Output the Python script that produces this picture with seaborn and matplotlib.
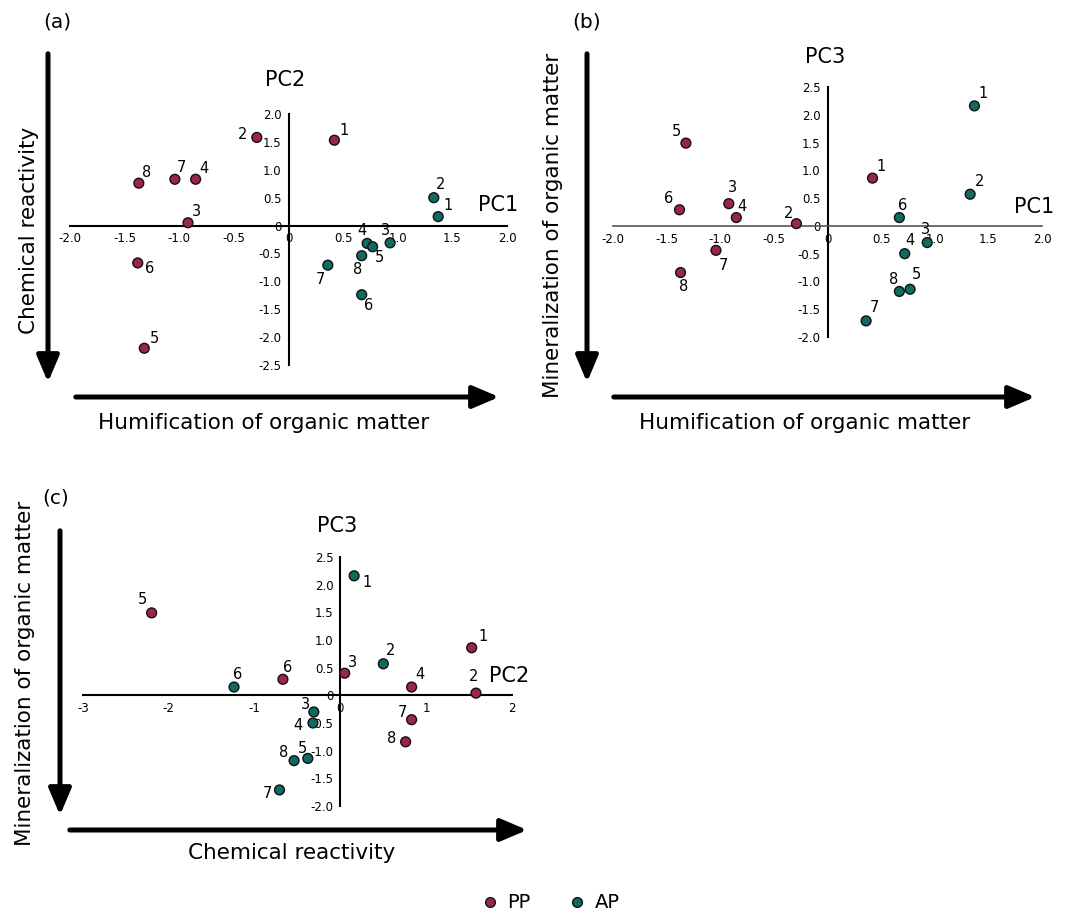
import numpy as np
import pandas as pd
import matplotlib
matplotlib.use("Agg")
import matplotlib.pyplot as plt
import seaborn as sns
from matplotlib.patches import FancyArrowPatch
from matplotlib.lines import Line2D

# scores
samples = [1, 2, 3, 4, 5, 6, 7, 8]
pp_pc1 = [0.42, -0.29, -0.92, -0.85, -1.32, -1.38, -1.04, -1.37]
pp_pc2 = [1.53, 1.58, 0.05, 0.83, -2.20, -0.67, 0.83, 0.76]
pp_pc3 = [0.86, 0.04, 0.40, 0.15, 1.49, 0.29, -0.44, -0.84]
ap_pc1 = [1.37, 1.33, 0.93, 0.72, 0.77, 0.67, 0.36, 0.67]
ap_pc2 = [0.16, 0.50, -0.31, -0.32, -0.38, -1.24, -0.71, -0.54]
ap_pc3 = [2.16, 0.57, -0.30, -0.50, -1.14, 0.15, -1.71, -1.18]

groups = ["PP", "AP"]
colors = {"PP": "#9b2743", "AP": "#0f6a62"}

df = pd.DataFrame({
    "group": ["PP"] * 8 + ["AP"] * 8,
    "sample": samples + samples,
    "PC1": pp_pc1 + ap_pc1,
    "PC2": pp_pc2 + ap_pc2,
    "PC3": pp_pc3 + ap_pc3,
})

# label offsets in pixels (dx, dy downward)
offs_a = {
    "PP": [(10, -10), (-14, -3), (9, -11), (8, -11), (10, -10), (12, 6), (7, -12), (8, -11)],
    "AP": [(10, -11), (7, -13), (-5, -12), (-5, -13), (7, 11), (7, 11), (-7, 14), (-4, 14)],
}
offs_b = {
    "PP": [(9, -12), (-8, -10), (4, -16), (6, -11), (-9, -12), (-11, -11), (7, 15), (3, 14)],
    "AP": [(9, -12), (9, -13), (-2, -13), (5, -13), (6, -15), (3, -12), (8, -13), (-6, -12)],
}
offs_c = {
    "PP": [(11, -11), (-2, -17), (8, -11), (8, -13), (-9, -13), (5, -12), (-9, -7), (-14, -3)],
    "AP": [(13, 7), (7, -13), (-8, -7), (-15, 3), (-5, -10), (4, -13), (-12, 4), (-10, -8)],
}

W, H = 1069, 915
sns.set_style("white")
plt.rcParams["font.family"] = ["DejaVu Sans"]
plt.rcParams["text.color"] = "black"
plt.rcParams["xtick.color"] = "black"
plt.rcParams["ytick.color"] = "black"
fig = plt.figure(figsize=(W / 100, H / 100), dpi=100)


def fx(x):
    return x / W


def fy(y):
    return 1 - y / H


def fmt(v):
    if abs(v) < 1e-9:
        return "0"
    return f"{v:.1f}"


def panel(x0, x1, ytop, ybot, xcol, ycol, xlim, ylim, xticks, yticks, offs,
          xfmt, xcolor="black", xlw=1.5):
    ax = fig.add_axes([fx(x0), fy(ybot), (x1 - x0) / W, (ybot - ytop) / H])
    sns.scatterplot(data=df, x=xcol, y=ycol, hue="group", palette=colors,
                    s=50, edgecolor="#111111", linewidth=1, legend=False,
                    ax=ax, zorder=3, clip_on=False)
    ax.set_xlim(*xlim)
    ax.set_ylim(*ylim)
    for side in ["top", "right"]:
        ax.spines[side].set_visible(False)
    ax.spines["left"].set_position(("data", 0))
    ax.spines["bottom"].set_position(("data", 0))
    ax.spines["left"].set_linewidth(1.5)
    ax.spines["left"].set_color("black")
    ax.spines["bottom"].set_linewidth(xlw)
    ax.spines["bottom"].set_color(xcolor)
    ax.set_xticks(xticks)
    ax.set_xticklabels([xfmt(v) for v in xticks])
    ax.set_yticks(yticks)
    ax.set_yticklabels([fmt(v) for v in yticks])
    ax.tick_params(axis="both", direction="out", length=3, width=1,
                   labelsize=8.5, labelcolor="black", pad=2)
    ax.tick_params(axis="x", color=xcolor)
    ax.set_xlabel("")
    ax.set_ylabel("")
    ax.patch.set_alpha(0)
    for g in groups:
        sub = df[df["group"] == g]
        for (_, r), (dx, dy) in zip(sub.iterrows(), offs[g]):
            ax.annotate(str(r["sample"]), (r[xcol], r[ycol]), xytext=(dx, -dy),
                        textcoords="offset pixels", ha="center", va="center",
                        fontsize=10.5, color="black")
    return ax


def arrow(xa, ya, xb, yb):
    fig.add_artist(FancyArrowPatch((fx(xa), fy(ya)), (fx(xb), fy(yb)),
                                   transform=fig.transFigure,
                                   arrowstyle="-|>,head_width=0.34,head_length=0.8",
                                   mutation_scale=20, lw=3.6, color="black"))


half = [-2.0, -1.5, -1.0, -0.5, 0, 0.5, 1.0, 1.5, 2.0]

# (a) PC1 vs PC2
panel(70, 507, 114, 365, "PC1", "PC2", (-2, 2), (-2.5, 2.0), half,
      [2.0, 1.5, 1.0, 0.5, 0, -0.5, -1.0, -1.5, -2.0, -2.5], offs_a, fmt)
fig.text(fx(285), fy(80), "PC2", ha="center", va="center", fontsize=15)
fig.text(fx(498), fy(205), "PC1", ha="center", va="center", fontsize=15)
arrow(48, 51, 48, 385)
arrow(73, 397, 502, 397)
fig.text(fx(29), fy(230), "Chemical reactivity", rotation=90, ha="center",
         va="center", fontsize=15.5)
fig.text(fx(264), fy(423), "Humification of organic matter", ha="center",
         va="center", fontsize=15.5)
fig.text(fx(57), fy(22), "(a)", ha="center", va="center", fontsize=14.5)

# (b) PC1 vs PC3
panel(613, 1042, 87, 337, "PC1", "PC3", (-2, 2), (-2.0, 2.5), half,
      [2.5, 2.0, 1.5, 1.0, 0.5, 0, -0.5, -1.0, -1.5, -2.0], offs_b, fmt,
      xcolor="#555555", xlw=1.2)
fig.text(fx(825), fy(57), "PC3", ha="center", va="center", fontsize=15)
fig.text(fx(1034), fy(207), "PC1", ha="center", va="center", fontsize=15)
arrow(587, 51, 587, 385)
arrow(611, 397, 1038, 397)
fig.text(fx(553), fy(225), "Mineralization of organic matter", rotation=90,
         ha="center", va="center", fontsize=15.5)
fig.text(fx(805), fy(423), "Humification of organic matter", ha="center",
         va="center", fontsize=15.5)
fig.text(fx(587), fy(22), "(b)", ha="center", va="center", fontsize=14.5)

# (c) PC2 vs PC3
panel(83, 512, 557, 806, "PC2", "PC3", (-3, 2), (-2.0, 2.5),
      [-3, -2, -1, 0, 1, 2],
      [2.5, 2.0, 1.5, 1.0, 0.5, 0, -0.5, -1.0, -1.5, -2.0], offs_c,
      lambda v: str(int(v)))
fig.text(fx(337), fy(526), "PC3", ha="center", va="center", fontsize=15)
fig.text(fx(509), fy(676), "PC2", ha="center", va="center", fontsize=15)
arrow(60, 528, 60, 818)
arrow(67, 830, 530, 830)
fig.text(fx(25), fy(673), "Mineralization of organic matter", rotation=90,
         ha="center", va="center", fontsize=15.5)
fig.text(fx(292), fy(853), "Chemical reactivity", ha="center", va="center",
         fontsize=15.5)
fig.text(fx(56), fy(498), "(c)", ha="center", va="center", fontsize=14.5)

handles = [Line2D([], [], marker="o", linestyle="", markersize=7,
                  markerfacecolor=colors[g], markeredgecolor="#111111",
                  markeredgewidth=1) for g in groups]
fig.legend(handles, groups, loc="center", bbox_to_anchor=(fx(551), fy(903)),
           ncol=2, frameon=False, fontsize=14, handlelength=0.8,
           handletextpad=0.5, columnspacing=2.0)

fig.savefig("out.png", dpi=100)
